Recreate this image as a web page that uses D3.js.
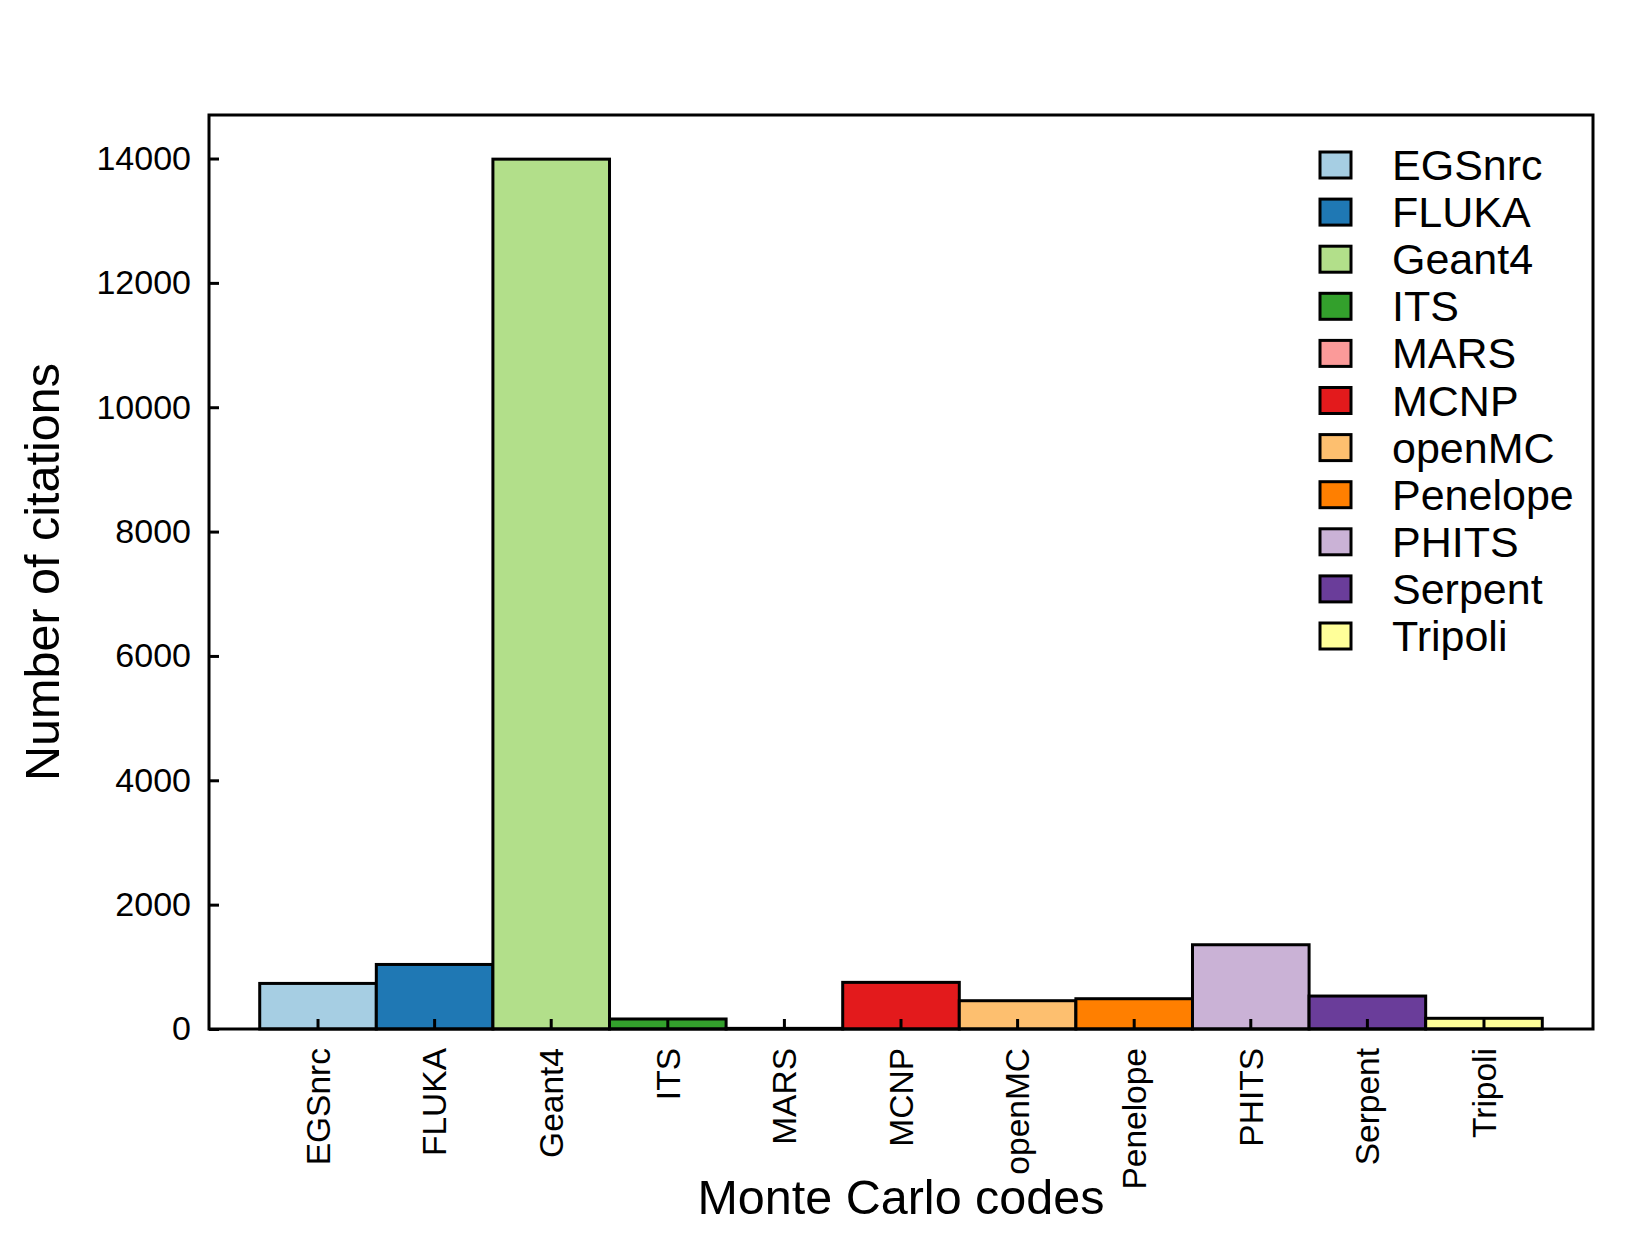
<!DOCTYPE html>
<html>
<head>
<meta charset="utf-8">
<script src="https://cdn.jsdelivr.net/npm/d3@7"></script>
<style>
  body { margin: 0; background: #fff; }
  svg text { font-family: "Liberation Sans", Arial, Helvetica, sans-serif; fill: #000; }
</style>
</head>
<body>
<div id="chart"></div>
<script>
'use strict';

var codes = ['EGSnrc', 'FLUKA', 'Geant4', 'ITS', 'MARS', 'MCNP', 'openMC', 'Penelope', 'PHITS', 'Serpent', 'Tripoli'];
var citations = [733, 1038, 13990, 161, 10, 750, 455, 487, 1355, 530, 172];
var yTicks = [0, 2000, 4000, 6000, 8000, 10000, 12000, 14000];

var width = 1644,
    height = 1233,
    plotLeft = 209,
    plotRight = 1593,
    plotTop = 115,
    plotBottom = 1029,
    color = d3.scaleOrdinal().domain(codes).range(d3.schemePaired);

var svg = d3.select('#chart').append('svg').attr('width', width).attr('height', height);

var x = d3.scaleBand().domain(codes).range([plotLeft, plotRight]).paddingInner(0).paddingOuter(0.435);
var y = d3.scaleLinear().domain([0, 14700]).range([plotBottom, plotTop]);

// bars
svg.selectAll('.bar').data(codes).enter().append('rect')
    .attr('class', 'bar')
    .attr('x', function (d) { return x(d); })
    .attr('y', function (d, i) { return y(citations[i]); })
    .attr('width', x.bandwidth())
    .attr('height', function (d, i) { return y(0) - y(citations[i]); })
    .style('fill', function (d) { return color(d); })
    .style('stroke', '#000')
    .style('stroke-width', 3);

// y axis, ticks pointing inward
var yAxis = svg.append('g').attr('transform', 'translate(' + plotLeft + ',0)')
    .call(d3.axisLeft(y).tickValues(yTicks).tickSize(-10).tickPadding(18).tickFormat(d3.format('d')));
yAxis.select('.domain').remove();
yAxis.selectAll('line').style('stroke', '#000').style('stroke-width', 3);
yAxis.selectAll('text').style('font-size', '34px');

// x axis, ticks pointing inward, labels rotated
var xAxis = svg.append('g').attr('transform', 'translate(0,' + plotBottom + ')')
    .call(d3.axisBottom(x).tickSize(-10).tickPadding(0));
xAxis.select('.domain').remove();
xAxis.selectAll('line').style('stroke', '#000').style('stroke-width', 3);
xAxis.selectAll('text')
    .attr('transform', 'translate(0,19) rotate(-90)')
    .attr('x', 0).attr('y', 0).attr('dy', '0.35em')
    .style('text-anchor', 'end')
    .style('font-size', '33.5px');

// frame
svg.append('rect')
    .attr('x', plotLeft).attr('y', plotTop)
    .attr('width', plotRight - plotLeft).attr('height', plotBottom - plotTop)
    .style('fill', 'none').style('stroke', '#000').style('stroke-width', 3);

// axis titles
svg.append('text')
    .attr('x', (plotLeft + plotRight) / 2).attr('y', 1214)
    .style('text-anchor', 'middle').style('font-size', '48.5px')
    .text('Monte Carlo codes');

svg.append('text')
    .attr('transform', 'translate(59,' + (plotTop + plotBottom) / 2 + ') rotate(-90)')
    .style('text-anchor', 'middle').style('font-size', '48.5px')
    .text('Number of citations');

// legend
var legend = svg.selectAll('.legend').data(codes).enter().append('g')
    .attr('class', 'legend')
    .attr('transform', function (d, i) { return 'translate(1320,' + (165 + i * 47.1) + ')'; });

legend.append('rect')
    .attr('x', 0).attr('y', -13)
    .attr('width', 31).attr('height', 26)
    .style('fill', function (d) { return color(d); })
    .style('stroke', '#000').style('stroke-width', 3);

legend.append('text')
    .attr('x', 72).attr('dy', '0.35em')
    .style('font-size', '43px')
    .text(function (d) { return d; });
</script>
</body>
</html>
